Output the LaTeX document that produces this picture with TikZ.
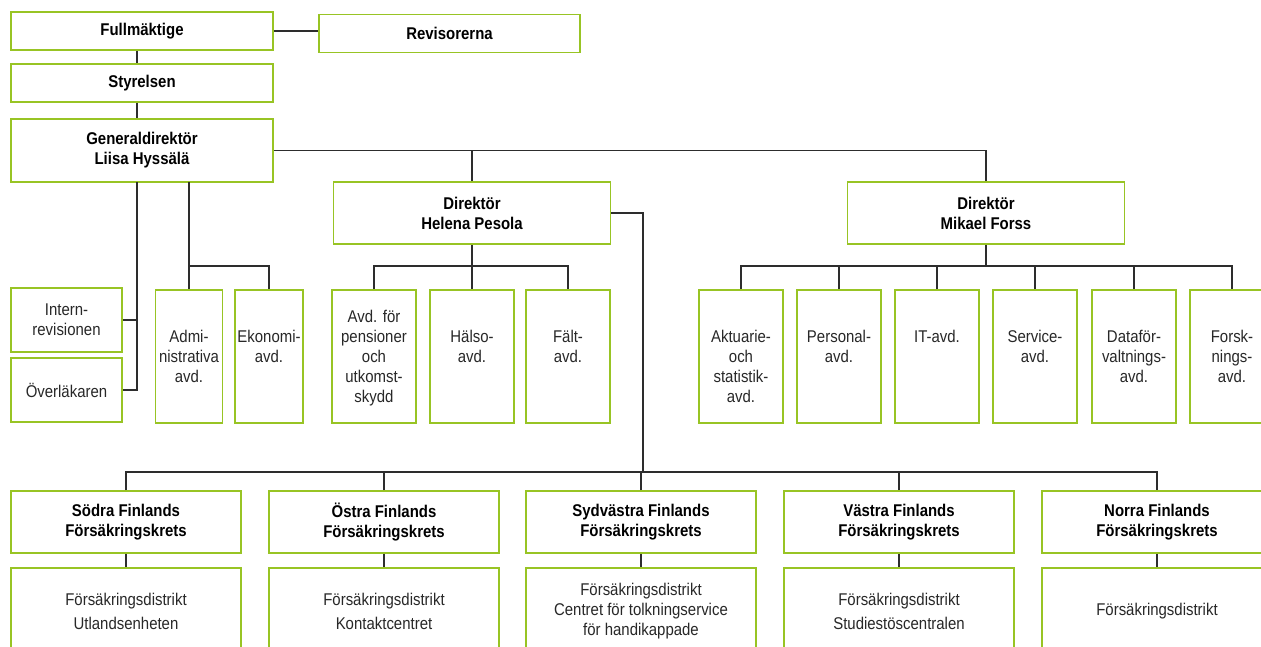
\documentclass[tikz,border=0pt]{standalone}
\usepackage{fontspec}
\setmainfont[FakeStretch=0.88]{Liberation Sans}
\definecolor{kelagreen}{RGB}{152,196,36}
\definecolor{linegray}{RGB}{45,45,45}
\definecolor{txtgray}{RGB}{40,40,40}
\tikzset{
  box/.style={draw=kelagreen,line width=1.6pt,fill=white,inner sep=0pt,
    text=txtgray,font=\fontsize{17}{20}\selectfont},
  unit/.style={box,align=center},
  head/.style={unit,text=black,font=\fontsize{17}{20}\selectfont\bfseries},
  dept/.style={box,anchor=north,minimum width=#1,text height=40pt,text depth=93pt,
    execute at begin node={\begin{minipage}[t]{#1}\centering},
    execute at end node={\end{minipage}}},
  dept/.default=84pt,
  region/.style={head,minimum width=230pt,minimum height=62pt},
  district/.style={unit,minimum width=230pt,minimum height=86pt},
  conn/.style={draw=linegray,line width=1.1pt}
}
\begin{document}
\begin{tikzpicture}[x=1pt,y=-1pt]
   \clip (0,0) rectangle (1261,646);
   \node[head,minimum width=262pt,minimum height=38pt] (fullm) at (142,31) {Fullmäktige};
   \node[head,minimum width=261pt,minimum height=38pt] (revis) at (449.5,33.5) {Revisorerna};
   \node[head,minimum width=262pt,minimum height=38pt] (styr) at (142,83) {Styrelsen};
   \node[head,minimum width=262pt,minimum height=63pt] (gd) at (142,150.5) {Generaldirektör\\Liisa Hyssälä};
   \node[head,minimum width=277pt,minimum height=62pt] (helena) at (472,213) {Direktör\\Helena Pesola};
   \node[head,minimum width=277pt,minimum height=62pt] (mikael) at (986,213) {Direktör\\Mikael Forss};
   \node[unit,minimum width=111pt,minimum height=64pt] (intern) at (66.5,320) {Intern-\\revisionen};
   \node[unit,minimum width=111pt,minimum height=64pt] (oever) at (66.5,390) {Överläkaren};
   \node[dept=67pt] (admin) at (189,289) {Admi-\\nistrativa\\avd.};
   \node[dept=68pt] (ekon) at (269,289) {Ekonomi-\\avd.};
   \node[dept,text height=20pt,text depth=113pt] (pens) at (374,289) {Avd. för\\pensioner\\och\\utkomst-\\skydd};
   \node[dept] (halso) at (472,289) {Hälso-\\avd.};
   \node[dept] (falt) at (568,289) {Fält-\\avd.};
   \node[dept] (akt) at (741,289) {Aktuarie-\\och\\statistik-\\avd.};
   \node[dept] (pers) at (839,289) {Personal-\\avd.};
   \node[dept] (it) at (937,289) {IT-avd.};
   \node[dept] (serv) at (1035,289) {Service-\\avd.};
   \node[dept] (data) at (1134,289) {Dataför-\\valtnings-\\avd.};
   \node[dept] (forsk) at (1232,289) {Forsk-\\nings-\\avd.};
   \node[region] (sodra) at (126,522) {Södra Finlands\\Försäkringskrets};
   \node[region] (ostra) at (384,522) {Östra Finlands\\Försäkringskrets};
   \node[region] (sydv) at (641,522) {Sydvästra Finlands\\Försäkringskrets};
   \node[region] (vastra) at (899,522) {Västra Finlands\\Försäkringskrets};
   \node[region] (norra) at (1157,522) {Norra Finlands\\Försäkringskrets};
   \node[district] (sodrad) at (126,611) {Försäkringsdistrikt\\[4pt]Utlandsenheten};
   \node[district] (ostrad) at (384,611) {Försäkringsdistrikt\\[4pt]Kontaktcentret};
   \node[district] (sydvd) at (641,611) {Försäkringsdistrikt\\Centret för tolkningservice\\för handikappade};
   \node[district] (vastrad) at (899,611) {Försäkringsdistrikt\\[4pt]Studiestöscentralen};
   \node[district] (norrad) at (1157,611) {Försäkringsdistrikt};
   \coordinate (gdl) at (137,182);
   \coordinate (gdr) at (189,182);
   \coordinate (abus) at (189,266);
   \coordinate (hbus) at (472,266);
   \coordinate (mbus) at (986,266);
   \coordinate (rbus) at (643,472);
   \draw[conn] (fullm.east) -- (fullm.east -| revis.west);
   \draw[conn] (fullm.south -| gdl) -- (styr.north -| gdl);
   \draw[conn] (styr.south -| gdl) -- (gd.north -| gdl);
   \draw[conn] (gd.east) -| (mikael.north);
   \draw[conn] (helena.north) -- (helena.north |- gd.east);
   \draw[conn] (gdl) |- (oever.east);
   \draw[conn] (intern.east) -| (gdl);
   \draw[conn] (gdr) -- (admin.north);
   \draw[conn] (abus) -| (ekon.north);
   \draw[conn] (helena.south) -- (halso.north);
   \draw[conn] (pens.north) |- (hbus) -| (falt.north);
   \draw[conn] (mikael.south) -- (mbus);
   \draw[conn] (akt.north) |- (mbus) -| (forsk.north);
   \draw[conn] (pers.north) -- (pers.north |- mbus);
   \draw[conn] (it.north) -- (it.north |- mbus);
   \draw[conn] (serv.north) -- (serv.north |- mbus);
   \draw[conn] (data.north) -- (data.north |- mbus);
   \draw[conn] (helena.east) -| (rbus);
   \draw[conn] (sodra.north) |- (rbus) -| (norra.north);
   \draw[conn] (ostra.north) -- (ostra.north |- rbus);
   \draw[conn] (sydv.north) -- (sydv.north |- rbus);
   \draw[conn] (vastra.north) -- (vastra.north |- rbus);
   \draw[conn] (sodra.south) -- (sodrad.north);
   \draw[conn] (ostra.south) -- (ostrad.north);
   \draw[conn] (sydv.south) -- (sydvd.north);
   \draw[conn] (vastra.south) -- (vastrad.north);
   \draw[conn] (norra.south) -- (norrad.north);
\end{tikzpicture}
\end{document}
